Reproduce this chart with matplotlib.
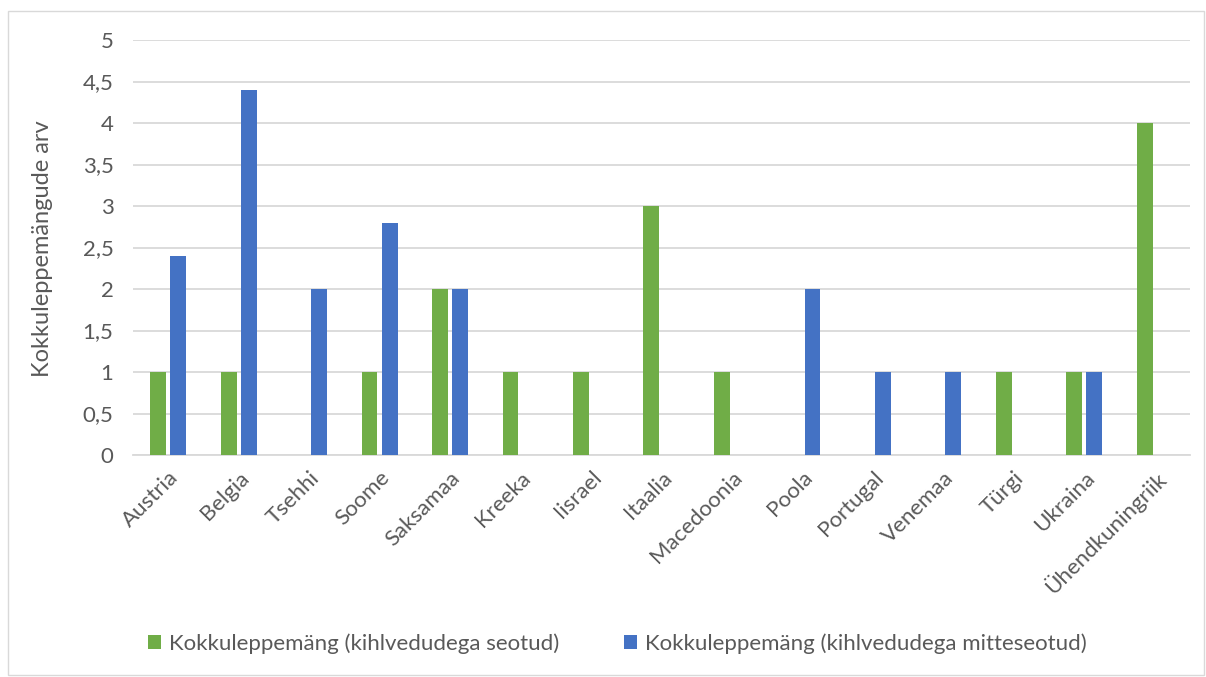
import matplotlib
matplotlib.use("Agg")
import matplotlib.pyplot as plt
import numpy as np
from matplotlib.patches import Rectangle

GREEN = "#70AD47"
BLUE = "#4472C4"
GRID = "#D9D9D9"
TEXT = "#595959"

countries = ["Austria", "Belgia", "Tsehhi", "Soome", "Saksamaa", "Kreeka", "Iisrael",
             "Itaalia", "Macedoonia", "Poola", "Portugal", "Venemaa", "Türgi", "Ukraina",
             "Ühendkuningriik"]
seotud = [1, 1, 0, 1, 2, 1, 1, 3, 1, 0, 0, 0, 1, 1, 4]
mitteseotud = [2.4, 4.4, 2, 2.8, 2, 0, 0, 0, 0, 2, 1, 1, 0, 1, 0]

label_green = "Kokkuleppemäng (kihlvedudega seotud)"
label_blue = "Kokkuleppemäng (kihlvedudega mitteseotud)"
y_ticks = [0, 0.5, 1, 1.5, 2, 2.5, 3, 3.5, 4, 4.5, 5]
y_tick_labels = ["0", "0,5", "1", "1,5", "2", "2,5", "3", "3,5", "4", "4,5", "5"]

plt.rcParams["font.family"] = ["Lato", "DejaVu Sans"]

fig = plt.figure(figsize=(12.06, 6.77), dpi=100)
ax = fig.add_axes([0.1103, 0.3279, 0.8764, 0.6130])

x = np.arange(len(countries))
w = 0.225
off = 0.143
ax.bar(x - off, seotud, width=w, color=GREEN, label=label_green, zorder=3)
ax.bar(x + off, mitteseotud, width=w, color=BLUE, label=label_blue, zorder=3)

ax.set_xlim(-0.5, len(countries) - 0.5)
ax.set_ylim(0, 5)
ax.set_yticks(y_ticks)
ax.set_yticklabels(y_tick_labels)
ax.yaxis.grid(True, color=GRID, linewidth=1.3, zorder=0)
ax.tick_params(axis="y", length=0, pad=14, labelsize=16, labelcolor=TEXT)
ax.tick_params(axis="x", length=0, pad=9, labelsize=16, labelcolor=TEXT)
ax.set_xticks(x)
ax.set_xticklabels(countries, rotation=45, ha="right", rotation_mode="anchor")
for s in ["top", "right", "left"]:
    ax.spines[s].set_visible(False)
ax.spines["bottom"].set_color(GRID)
ax.spines["bottom"].set_linewidth(1.3)

# y label placed by hand so it sits where the reference has it
fig.text(43 / 1206, 1 - 249 / 677, "Kokkuleppemängude arv", rotation=90,
         ha="center", va="center", fontsize=17, color=TEXT)

fig.legend(loc="lower center", bbox_to_anchor=(0.512, 0.005), ncol=2, frameon=False,
           fontsize=16, labelcolor=TEXT, handlelength=0.6, handleheight=0.6,
           handletextpad=0.35, columnspacing=2.9)

fig.patches.append(Rectangle((8 / 1206, 2 / 677), 1196 / 1206, 664 / 677,
                             transform=fig.transFigure, fill=False,
                             edgecolor="#D9D9D9", linewidth=1))

fig.savefig("out.png", dpi=100, facecolor="white")
